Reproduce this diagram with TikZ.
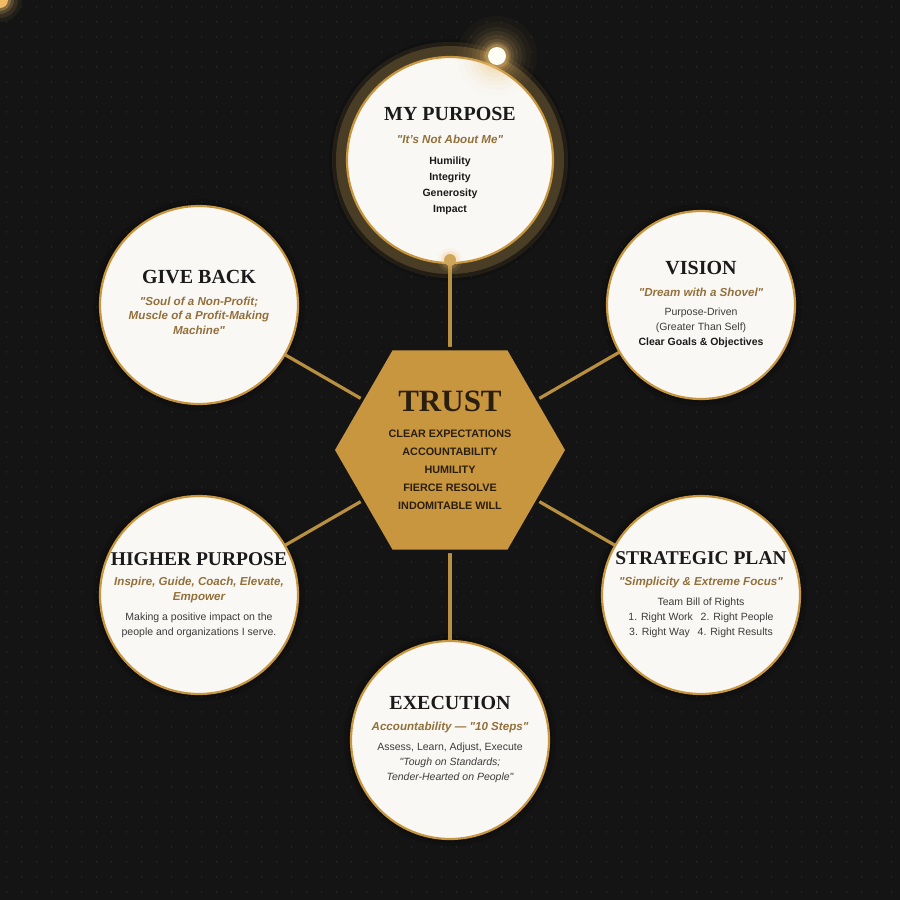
\documentclass[tikz,border=0pt]{standalone}
\usepackage{fontspec}
\setmainfont{Liberation Serif}
\setsansfont{Liberation Sans}
\newcommand{\qq}{\textquotedbl}
\definecolor{bgc}{HTML}{141414}
\definecolor{dotc}{HTML}{282828}
\definecolor{gold}{HTML}{C8963E}
\definecolor{hexc}{HTML}{C8963F}
\definecolor{linec}{HTML}{B8903F}
\definecolor{cream}{HTML}{F9F8F5}
\definecolor{subc}{HTML}{93703A}
\definecolor{bodyc}{HTML}{3C3C3C}
\definecolor{darkc}{HTML}{1A1A1A}
\definecolor{trustc}{HTML}{2A1F0E}
\definecolor{halo}{HTML}{4A3D25}
\definecolor{glowc}{HTML}{F0C070}
\pgfdeclarelayer{bg}\pgfdeclarelayer{lines}\pgfsetlayers{bg,lines,main}
\tikzset{
 bubble/.style={circle, fill=cream, draw=gold, line width=2.2pt, inner sep=0pt},
 ttl/.style={font=\fontsize{20}{23}\selectfont\bfseries, text=darkc, inner sep=0pt},
 ttlw/.style={font=\fontsize{19.5}{23}\selectfont\bfseries, text=darkc, inner sep=0pt},
 subt/.style={font=\sffamily\bfseries\itshape\fontsize{11.6}{14.5}\selectfont, text=subc, align=center, inner sep=0pt},
 bodyt/.style={font=\sffamily\fontsize{10.5}{15}\selectfont, text=bodyc, align=center, inner sep=0pt},
 conn/.style={draw=linec, line width=3.2pt},
}
\begin{document}
\begin{tikzpicture}[x=1pt,y=-1pt]
\useasboundingbox (0,0) rectangle (900,900);
\begin{pgfonlayer}{bg}
\fill[bgc] (0,0) rectangle (900,900);
\fill[dotc] \foreach \i in {6,21,...,891} {\foreach \j in {6,21,...,891} {(\i,\j) rectangle ++(1.2,1.6)}};
% corner glow
\foreach \r/\o in {22/0.06,18/0.1,14/0.18,11/0.3} {\fill[glowc, opacity=\o] (0,0) circle (\r);}
\fill[glowc!90!orange] (0,0) circle (8);
% shadows
\foreach \p/\r in {{(450,160)}/114,{(701,305)}/94,{(199,305)}/99,{(199,595)}/99,{(701,595)}/99,{(450,740)}/99}{
  \fill[black, opacity=0.12] \p circle (\r+7);
  \fill[black, opacity=0.12] \p circle (\r+3);
}
% halo of top circle
\fill[halo, opacity=0.35] (450,160) circle (118);
\fill[halo] (450,160) circle (114);
\end{pgfonlayer}

% bubbles
\node[bubble, minimum size=206] (purpose) at (450,160) {};
\node[bubble, minimum size=188] (vision) at (701,305) {};
\node[bubble, minimum size=198] (give) at (199,305) {};
\node[bubble, minimum size=198] (higher) at (199,595) {};
\node[bubble, minimum size=198] (strat) at (701,595) {};
\node[bubble, minimum size=198] (exec) at (450,740) {};

% hexagon
\draw[bgc, line width=7pt, line join=miter] (335,450) -- (392.5,350.4) -- (507.5,350.4) -- (565,450) -- (507.5,549.6) -- (392.5,549.6) -- cycle;
\fill[hexc] (335,450) -- (392.5,350.4) -- (507.5,350.4) -- (565,450) -- (507.5,549.6) -- (392.5,549.6) -- cycle;
\node[inner sep=0pt] (hex) at (450,450) {};

% top glow dot and gold dot
\foreach \r/\o in {40/0.03,34/0.04,29/0.05,25/0.07,21/0.09,17/0.13,14/0.2,12/0.3} {\fill[glowc, opacity=\o] (497,56) circle (\r);}
\node[circle, fill=white!96!yellow, inner sep=0pt, minimum size=18] (spark) at (497,56) {};
\foreach \r/\o in {12/0.1,9/0.2} {\fill[glowc, opacity=\o] (450,260) circle (\r);}
\node[circle, fill=gold!85!white, inner sep=0pt, minimum size=12] (topdot) at (450,260) {};

% connectors
\begin{pgfonlayer}{lines}
\draw[conn] (hex.center) -- (topdot.center);
\draw[conn] (hex.center) -- (exec.center);
\draw[conn] (hex.center) -- (give.center);
\draw[conn] (hex.center) -- (vision.center);
\draw[conn] (hex.center) -- (higher.center);
\draw[conn] (hex.center) -- (strat.center);
\end{pgfonlayer}

% texts: purpose
\node[ttl] (t1) at (450,114) {MY PURPOSE};
\node[subt] (s1) at (450,139) {\qq It's Not About Me\qq};
\node[bodyt, font=\sffamily\bfseries\fontsize{10.5}{16}\selectfont, text=darkc] (b1) at (450,185.5) {Humility\\Integrity\\Generosity\\Impact};
% vision
\node[ttl] (t2) at (701,268) {VISION};
\node[subt] (s2) at (701,292) {\qq Dream with a Shovel\qq};
\node[bodyt] (b2) at (701,328) {Purpose-Driven\\(Greater Than Self)\\\textcolor{darkc}{\bfseries Clear Goals \& Objectives}};
% give back
\node[ttl] (t3) at (199,277) {GIVE BACK};
\node[subt] (s3) at (199,315.5) {\qq Soul of a Non-Profit;\\Muscle of a Profit-Making\\Machine\qq};
% trust
\node[font=\fontsize{31}{36}\selectfont\bfseries, text=trustc, inner sep=0pt] (t4) at (450,401) {TRUST};
\node[font=\sffamily\bfseries\fontsize{10.8}{18}\selectfont, text=trustc, align=center, inner sep=0pt] (b4) at (450,470) {CLEAR EXPECTATIONS\\ACCOUNTABILITY\\HUMILITY\\FIERCE RESOLVE\\INDOMITABLE WILL};
% higher purpose
\node[ttlw] (t5) at (199,559) {HIGHER PURPOSE};
\node[subt] (s5) at (199,590) {Inspire, Guide, Coach, Elevate,\\Empower};
\node[bodyt] (b5) at (199,625.5) {Making a positive impact on the\\people and organizations I serve.};
% strategic plan
\node[ttlw] (t6) at (701,558) {STRATEGIC PLAN};
\node[subt] (s6) at (701,582) {\qq Simplicity \& Extreme Focus\qq};
\node[bodyt] (b6) at (701,618) {Team Bill of Rights\\1. Right Work\hspace{0.75em}2. Right People\\3. Right Way\hspace{0.75em}4. Right Results};
% execution
\node[ttl] (t7) at (450,703) {EXECUTION};
\node[subt] (s7) at (450,727) {Accountability --- \qq 10 Steps\qq};
\node[bodyt] (b7) at (450,763) {Assess, Learn, Adjust, Execute\\\itshape \qq Tough on Standards;\\\itshape Tender-Hearted on People\qq};
\end{tikzpicture}
\end{document}
